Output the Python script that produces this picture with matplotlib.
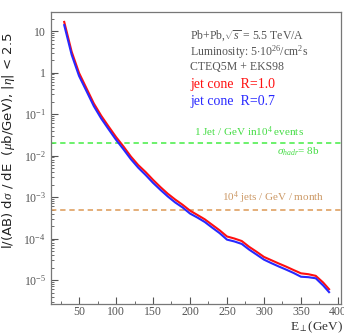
import matplotlib
matplotlib.use("Agg")
import matplotlib.pyplot as plt
from matplotlib.ticker import FixedLocator, FixedFormatter, MultipleLocator, LogLocator, NullFormatter

plt.rcParams['mathtext.fontset'] = 'custom'
plt.rcParams['mathtext.rm'] = 'Liberation Serif'
plt.rcParams['mathtext.it'] = 'Liberation Serif:italic'
plt.rcParams['mathtext.bf'] = 'Liberation Serif:bold'

# Data
energy = [30, 40, 50, 60, 70, 80, 90, 100, 110, 120, 130, 140, 150, 160, 170, 180, 190,
          200, 210, 220, 230, 240, 250, 260, 270, 280, 290, 300, 310, 320, 330, 340,
          350, 360, 370, 380, 388]
cone_r10 = [16.6, 3.2, 0.98, 0.42, 0.18, 0.091, 0.050, 0.028, 0.0166, 0.0095, 0.0059,
            0.0040, 0.0026, 0.00174, 0.00120, 0.00087, 0.00065, 0.00047, 0.00037,
            0.00029, 0.000214, 0.000158, 0.000112, 0.000100, 0.000087, 0.000063,
            0.000048, 0.000036, 0.000030, 0.000025, 0.000021, 0.0000174, 0.0000145,
            0.0000138, 0.0000126, 0.0000087, 0.0000060]
cone_r07 = [13.9, 2.7, 0.83, 0.36, 0.155, 0.078, 0.043, 0.024, 0.0142, 0.0082, 0.0051,
            0.0034, 0.0022, 0.00149, 0.00103, 0.00074, 0.00056, 0.00040, 0.00032,
            0.00025, 0.000183, 0.000135, 0.000094, 0.000085, 0.000074, 0.000054,
            0.000041, 0.000031, 0.0000255, 0.0000212, 0.0000178, 0.0000148, 0.0000120,
            0.0000117, 0.0000110, 0.0000074, 0.0000051]
level_1jet = 2.0e-2
level_month = 5.0e-4

ytick_vals = [10, 1, 1e-1, 1e-2, 1e-3, 1e-4, 1e-5]
ytick_labels = ['10', '1', r'$10^{-1}$', r'$10^{-2}$', r'$10^{-3}$', r'$10^{-4}$', r'$10^{-5}$']
xtick_vals = [50, 100, 150, 200, 250, 300, 350, 400]

fig = plt.figure(figsize=(3.44, 3.35), dpi=100)
ax = fig.add_axes([0.148, 0.0925, 0.843, 0.8715])

gray = '#555555'
serif = 'Liberation Serif'

ax.axhline(level_1jet, color='#44ee44', lw=1.1, ls=(0, (3.5, 2.5)))
ax.axhline(level_month, color='#dd9955', lw=1.1, ls=(0, (3.5, 2.5)))

ax.plot(energy, cone_r10, color='#ff1010', lw=1.5)
ax.plot(energy, cone_r07, color='#2828ff', lw=1.5)

ax.set_yscale('log')
ax.set_xlim(12, 404)
ax.set_ylim(2.64e-6, 28.7)

ax.yaxis.set_major_locator(FixedLocator(ytick_vals))
ax.yaxis.set_major_formatter(FixedFormatter(ytick_labels))
ax.yaxis.set_minor_locator(LogLocator(base=10, subs=range(2, 10), numticks=20))
ax.yaxis.set_minor_formatter(NullFormatter())
ax.xaxis.set_major_locator(FixedLocator(xtick_vals))
ax.xaxis.set_minor_locator(MultipleLocator(25))

ax.tick_params(which='both', direction='in', color=gray, labelcolor=gray, labelsize=8.5)
ax.tick_params(which='major', length=5, width=0.8)
ax.tick_params(which='minor', length=2.5, width=0.6)
ax.tick_params(axis='x', which='both', top=False, pad=1.5)
ax.tick_params(axis='y', which='both', right=False)
for lab in ax.get_xticklabels() + ax.get_yticklabels():
    lab.set_fontfamily(serif)
for sp in ax.spines.values():
    sp.set_color('#777777')
    sp.set_linewidth(0.9)

ax.set_ylabel(r'l/(AB) d$\sigma$ / dE  ($\mu$b/GeV), |$\eta$| < 2.5', fontsize=9.5,
              color='#222222', labelpad=2)
ax.yaxis.set_label_coords(-0.118, 0.56)
fig.text(0.998, 0.022, r'E$_{\perp}$(GeV)', fontsize=9.5, family=serif, color='#333333',
         ha='right', va='center')

tx = 0.48
ax.text(tx, 0.915, r'Pb+Pb,$\sqrt{s}$ = 5.5 TeV/A', transform=ax.transAxes,
        fontsize=8.5, family=serif, color=gray, va='center')
ax.text(tx, 0.862, r'Luminosity: 5$\cdot$10$^{26}$/cm$^2$s', transform=ax.transAxes,
        fontsize=8.5, family=serif, color=gray, va='center')
ax.text(tx, 0.812, 'CTEQ5M + EKS98', transform=ax.transAxes,
        fontsize=8.5, family=serif, color=gray, va='center')
ax.text(tx, 0.752, 'jet cone  R=1.0', transform=ax.transAxes,
        fontsize=10, family=serif, color='#ff1010', va='center')
ax.text(tx, 0.692, 'jet cone  R=0.7', transform=ax.transAxes,
        fontsize=10, family=serif, color='#2828ff', va='center')

ax.text(0.495, 0.589, r'1 Jet / GeV in10$^4$ events', transform=ax.transAxes,
        fontsize=8, family=serif, color='#44dd44', va='center')
ax.text(0.78, 0.52, r'$\sigma_{hadr}$= 8b', transform=ax.transAxes,
        fontsize=8, family=serif, color='#44dd44', va='center')
ax.text(0.59, 0.365, r'10$^4$ jets / GeV / month', transform=ax.transAxes,
        fontsize=8, family=serif, color='#cc9966', va='center')

fig.savefig('out.png', dpi=100)
